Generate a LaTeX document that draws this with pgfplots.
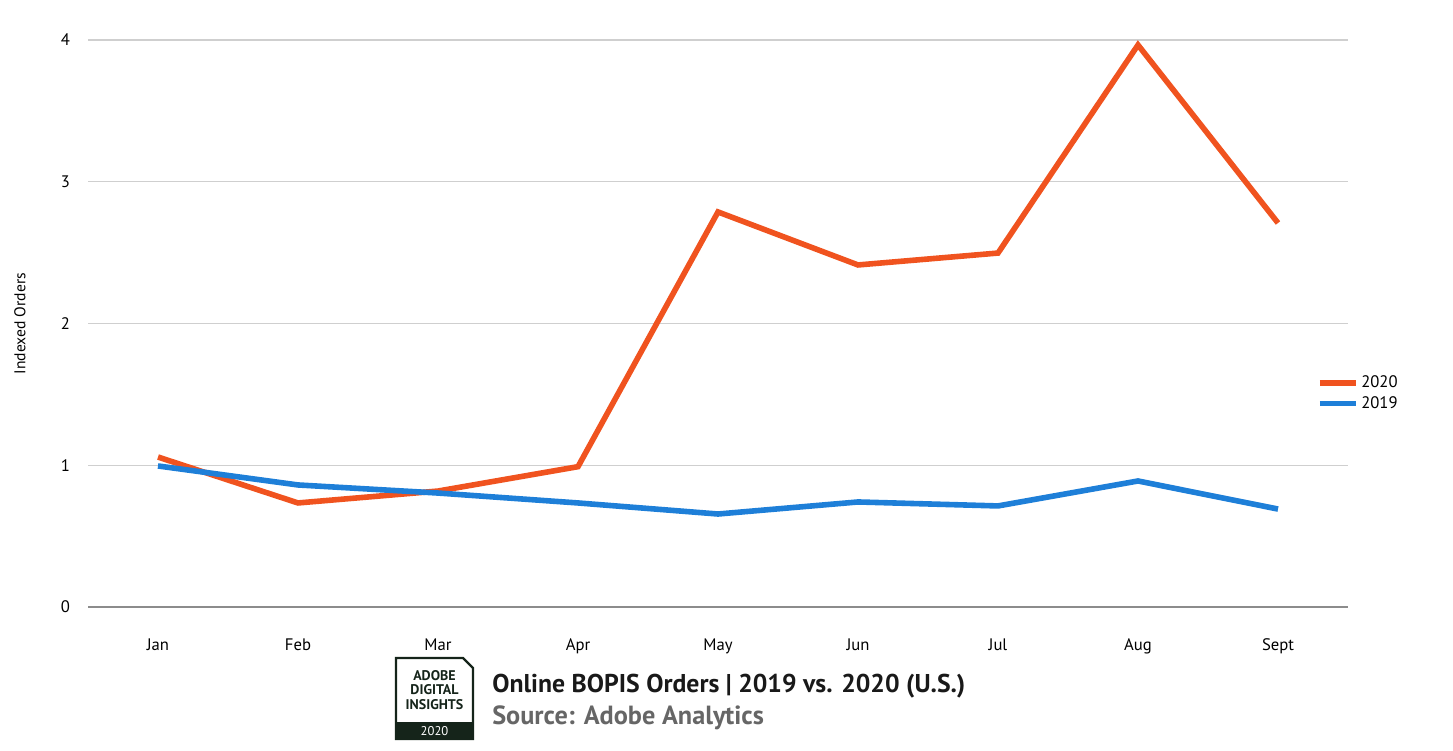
\documentclass[border=0pt]{standalone}
\usepackage{fontspec}
\setmainfont{PT Sans}
\usepackage{pgfplots}
\pgfplotsset{compat=1.18}
\definecolor{c2020}{HTML}{F0531F}
\definecolor{c2019}{HTML}{1E7FD8}
\definecolor{logo}{HTML}{15241A}
\definecolor{gridc}{HTML}{CFCFCF}
\definecolor{basec}{HTML}{8C8C8C}
\definecolor{srcc}{HTML}{666666}
\begin{document}
\begin{tikzpicture}
\path[use as bounding box] (0,0) rectangle (1089.75pt,562.5pt);
\begin{axis}[
  at={(66pt,107.25pt)}, anchor=south west,
  scale only axis, width=945pt, height=425.25pt,
  xmin=-0.5, xmax=8.5, ymin=0, ymax=4,
  clip=false,
  axis x line*=bottom, axis y line*=left,
  y axis line style={draw=none},
  x axis line style={basec, line width=1pt},
  xtick={0,...,8},
  xticklabels={Jan,Feb,Mar,Apr,May,Jun,Jul,Aug,Sept},
  ytick={0,1,2,3,4},
  major tick length=0pt,
  ymajorgrids, grid style={gridc, line width=0.9pt},
  /pgf/number format/assume math mode=true,
  tick label style={font=\fontsize{12.5}{14}\selectfont, black},
  yticklabel style={xshift=-10pt},
  xticklabel style={yshift=-20pt},
  ylabel={Indexed Orders},
  every axis y label/.style={at={(rel axis cs:0,0.5)}, xshift=-51pt, rotate=90, anchor=center,
    font=\fontsize{11.7}{13}\selectfont},
  legend style={at={(0.972,0.377)}, anchor=west, draw=none, fill=none,
    font=\fontsize{12.5}{14}\selectfont, row sep=1pt},
  legend cell align=left,
  legend image code/.code={\draw[#1, line width=4.2pt] (0pt,0pt) -- (27pt,0pt);},
]
\addplot[c2020, line width=4.2pt] coordinates {
(0,1.058) (1,0.734) (2,0.818) (3,0.99) (4,2.787) (5,2.413) (6,2.497) (7,3.965) (8,2.709)};
\addlegendentry{2020}
\addplot[c2019, line width=4.2pt] coordinates {
(0,0.995) (1,0.861) (2,0.804) (3,0.734) (4,0.656) (5,0.741) (6,0.713) (7,0.889) (8,0.691)};
\addlegendentry{2019}
\end{axis}
\begin{scope}[x=0.75pt, y=-0.75pt, yshift=562.5pt]
  % logo
  \draw[logo, line width=1.6pt] (396,658) -- (463,658) -- (473,668) -- (473,739) -- (396,739) -- cycle;
  \fill[logo] (396,722) rectangle (473,739);
  \node[logo, font=\fontsize{10.5}{11}\bfseries\selectfont, align=center, inner sep=0pt]
     at (434.5,690) {ADOBE\\DIGITAL\\INSIGHTS};
  \node[white, font=\fontsize{9.5}{10}\selectfont, inner sep=0pt] at (434.5,731) {2020};
  \node[anchor=west, font=\fontsize{19.3}{22}\bfseries\selectfont, inner sep=0pt, text=black!90]
     at (492,686) {Online BOPIS Orders | 2019 vs. 2020 (U.S.)};
  \node[anchor=west, font=\fontsize{19.7}{22}\bfseries\selectfont, inner sep=0pt, text=srcc]
     at (492,718) {Source: Adobe Analytics};
\end{scope}
\end{tikzpicture}
\end{document}
